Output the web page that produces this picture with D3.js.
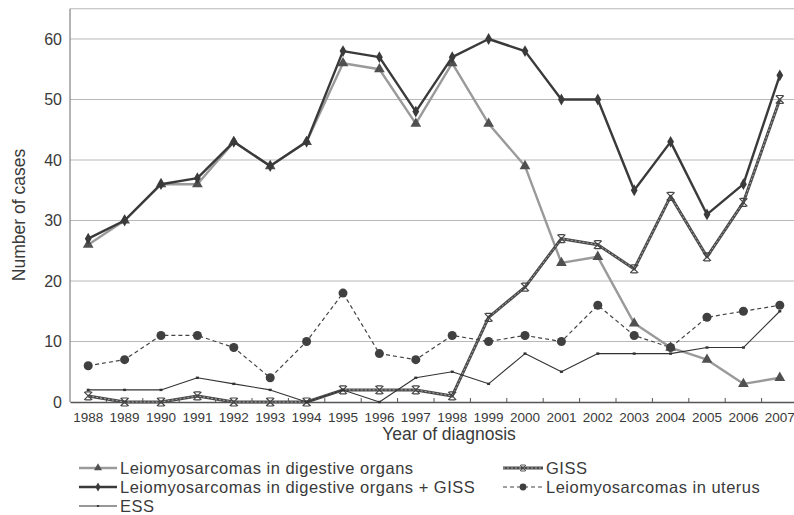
<!DOCTYPE html>
<html>
<head>
<meta charset="utf-8">
<script src="https://cdn.jsdelivr.net/npm/d3@7"></script>
<style>
    body { margin: 0; background: #fff; }
    text { font-family: "Liberation Sans", Arial, sans-serif; fill: #3a3a3a; }
</style>
</head>
<body>
<div id="chart-area"></div>
<script>
var years = ["1988", "1989", "1990", "1991", "1992", "1993", "1994", "1995", "1996", "1997",
    "1998", "1999", "2000", "2001", "2002", "2003", "2004", "2005", "2006", "2007"];

var digestive = [26, 30, 36, 36, 43, 39, 43, 56, 55, 46, 56, 46, 39, 23, 24, 13, 9, 7, 3, 4];
var giss = [1, 0, 0, 1, 0, 0, 0, 2, 2, 2, 1, 14, 19, 27, 26, 22, 34, 24, 33, 50];
var digestivePlusGiss = [27, 30, 36, 37, 43, 39, 43, 58, 57, 48, 57, 60, 58, 50, 50, 35, 43, 31, 36, 54];
var uterus = [6, 7, 11, 11, 9, 4, 10, 18, 8, 7, 11, 10, 11, 10, 16, 11, 9, 14, 15, 16];
var ess = [2, 2, 2, 4, 3, 2, 0, 2, 0, 4, 5, 3, 8, 5, 8, 8, 8, 9, 9, 15];

var yTicks = [0, 10, 20, 30, 40, 50, 60];

var seriesNames = ["Leiomyosarcomas in digestive organs", "GISS",
    "Leiomyosarcomas in digestive organs + GISS", "Leiomyosarcomas in uterus", "ESS"];

// line + marker styles, in drawing (and legend) order
var series = [
    { name: seriesNames[0], values: digestive, stroke: "#9a9a9a", width: 2.4, dash: null, marker: "triangle", fill: "#505050" },
    { name: seriesNames[1], values: giss, stroke: "#4a4a4a", width: 3, dash: null, marker: "giss", fill: "#555" },
    { name: seriesNames[2], values: digestivePlusGiss, stroke: "#3a3a3a", width: 2.4, dash: null, marker: "diamond", fill: "#3a3a3a" },
    { name: seriesNames[3], values: uterus, stroke: "#444", width: 1.2, dash: "4,3", marker: "circle", fill: "#404040" },
    { name: seriesNames[4], values: ess, stroke: "#333", width: 1.1, dash: null, marker: "small", fill: "#333" }
];

var width = 794, height = 515;
var plot = { left: 70, right: 798, top: 8.75, bottom: 402 };

var svg = d3.select("#chart-area").append("svg")
    .attr("width", width)
    .attr("height", height);

// Scales
var x = d3.scaleBand()
    .domain(years)
    .range([plot.left, plot.right]);

var y = d3.scaleLinear()
    .domain([0, 65])
    .range([plot.bottom, plot.top]);

// Gridlines (top one doubles as the plot border)
svg.append("g")
    .selectAll("line")
    .data(yTicks.slice(1).concat([65]))
    .enter().append("line")
    .attr("x1", plot.left)
    .attr("x2", width)
    .attr("y1", function(d) { return y(d); })
    .attr("y2", function(d) { return y(d); })
    .attr("stroke", "#b8b8b8")
    .attr("stroke-width", 1.2);

// Y axis
var yAxis = d3.axisLeft(y)
    .tickValues(yTicks)
    .tickSize(0)
    .tickPadding(8);

var yAxisGroup = svg.append("g")
    .attr("transform", "translate(" + plot.left + ",0)")
    .call(yAxis);
yAxisGroup.select(".domain").attr("stroke", "#8a8a8a").attr("stroke-width", 1.3)
    .attr("d", "M0," + plot.top + "V" + plot.bottom);
yAxisGroup.selectAll("text")
    .attr("font-size", 16)
    .attr("font-family", null);

// X axis: labels centered on years, small ticks on band boundaries pointing up
var xAxis = d3.axisBottom(x)
    .tickSize(0)
    .tickPadding(10);

var xAxisGroup = svg.append("g")
    .attr("transform", "translate(0," + plot.bottom + ")")
    .call(xAxis);
xAxisGroup.select(".domain").attr("stroke", "#555").attr("stroke-width", 1.4);
xAxisGroup.selectAll("text")
    .attr("font-size", 13.5)
    .attr("font-family", null);

xAxisGroup.selectAll(".band-tick")
    .data(years.slice(1))
    .enter().append("line")
    .attr("class", "band-tick")
    .attr("x1", function(d) { return x(d); })
    .attr("x2", function(d) { return x(d); })
    .attr("y1", 0)
    .attr("y2", -4)
    .attr("stroke", "#555")
    .attr("stroke-width", 1);

// Axis titles
svg.append("text")
    .attr("x", 449)
    .attr("y", 440)
    .attr("text-anchor", "middle")
    .attr("font-size", 17.5)
    .text("Year of diagnosis");

svg.append("text")
    .attr("transform", "translate(25,215) rotate(-90)")
    .attr("text-anchor", "middle")
    .attr("font-size", 17.5)
    .text("Number of cases");

// Marker path helper
function markerPath(type) {
    if (type === "triangle") return d3.symbol(d3.symbolTriangle, 50)();
    if (type === "diamond") return d3.symbol(d3.symbolDiamond, 40)();
    if (type === "circle") return d3.symbol(d3.symbolCircle, 64)();
    if (type === "small") return "M-1.5,-1.2H1.5V1.2H-1.5Z";
    // X with little bars on top and bottom
    return "M-4,-4L4,4M4,-4L-4,4M-3,-4H3M-3,4H3";
}

var line = d3.line()
    .x(function(d, i) { return x(years[i]) + x.bandwidth() / 2; })
    .y(function(d) { return y(d); });

series.forEach(function(s) {
    var g = svg.append("g");

    g.append("path")
        .datum(s.values)
        .attr("fill", "none")
        .attr("stroke", s.stroke)
        .attr("stroke-width", s.width)
        .attr("stroke-dasharray", s.dash)
        .attr("stroke-linejoin", "round")
        .attr("d", line);

    if (s.marker === "giss") {
        // lighter texture running through the thick line
        g.append("path")
            .datum(s.values)
            .attr("fill", "none")
            .attr("stroke", "#a8a8a8")
            .attr("stroke-width", 1)
            .attr("stroke-dasharray", "2,2")
            .attr("d", line);
    }

    g.selectAll(".marker")
        .data(s.values)
        .enter().append("path")
        .attr("class", "marker")
        .attr("transform", function(d, i) {
            return "translate(" + (x(years[i]) + x.bandwidth() / 2) + "," + y(d) + ")";
        })
        .attr("d", markerPath(s.marker))
        .attr("fill", s.marker === "giss" ? "none" : s.fill)
        .attr("stroke", s.marker === "giss" ? "#444" : "none")
        .attr("stroke-width", 1.2);
});

// Legend: two columns, filled row by row
var legendPos = [
    { x: 79, y: 468 }, { x: 503, y: 468 },
    { x: 79, y: 487 }, { x: 503, y: 487 },
    { x: 79, y: 506 }
];

var legend = svg.append("g");

series.forEach(function(s, i) {
    var p = legendPos[i];
    var item = legend.append("g").attr("transform", "translate(" + p.x + "," + p.y + ")");
    var w = i % 2 === 0 ? 38 : 40;

    item.append("line")
        .attr("x1", 0).attr("x2", w)
        .attr("stroke", s.stroke)
        .attr("stroke-width", s.width)
        .attr("stroke-dasharray", s.dash);

    if (s.marker === "giss") {
        item.append("line")
            .attr("x1", 0).attr("x2", w)
            .attr("stroke", "#a8a8a8")
            .attr("stroke-width", 1)
            .attr("stroke-dasharray", "2,2");
    }

    item.append("path")
        .attr("transform", "translate(" + (w / 2) + ",0) scale(0.75)")
        .attr("d", markerPath(s.marker))
        .attr("fill", s.marker === "giss" ? "none" : s.fill)
        .attr("stroke", s.marker === "giss" ? "#444" : "none")
        .attr("stroke-width", 1.2);

    item.append("text")
        .attr("x", w + 3)
        .attr("dy", "0.35em")
        .attr("font-size", 16.5)
        .attr("letter-spacing", 0.5)
        .text(s.name);
});
</script>
</body>
</html>
